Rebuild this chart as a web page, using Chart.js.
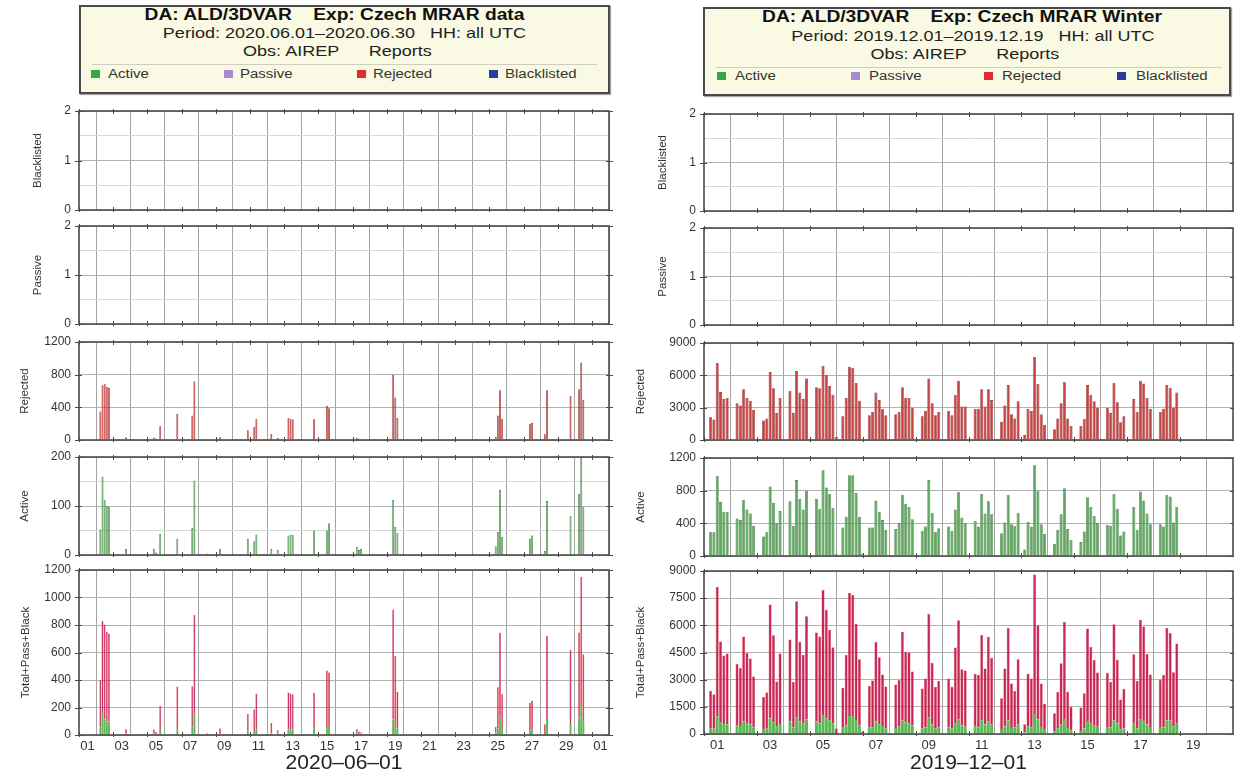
<!DOCTYPE html>
<html>
<head>
<meta charset="utf-8">
<script src="https://cdn.jsdelivr.net/npm/chart.js@4.4.1/dist/chart.umd.min.js"></script>
<style>
html,body{margin:0;padding:0;background:#fff;}
body{width:1234px;height:776px;position:relative;overflow:hidden;font-family:"Liberation Sans",Arial,Helvetica,sans-serif;color:#1a1a1a;}
canvas{position:absolute;}
.box{position:absolute;background:#fafae4;border:2px solid #4a4a4a;box-sizing:border-box;box-shadow:1px 1px 1px rgba(0,0,0,0.35);}
.ln{position:absolute;white-space:pre;text-align:center;line-height:18px;font-size:15px;transform:scaleX(1.2);transform-origin:center center;color:#222;}
.ln.b{font-weight:bold;font-size:16px;color:#111;}
.sep{position:absolute;height:1px;background:#cfcfc0;}
.sq{position:absolute;width:9px;height:8px;}
.lg{position:absolute;white-space:pre;font-size:12.5px;line-height:16px;transform:scaleX(1.2);transform-origin:left center;color:#333;}
</style>
</head>
<body>
<!-- Left header -->
<div class="box" style="left:79px;top:5px;width:531px;height:89px"></div>
<div class="ln b" style="left:69px;width:531px;top:6px">DA: ALD/3DVAR    Exp: Czech MRAR data</div>
<div class="ln" style="left:79px;width:531px;top:24px">Period: 2020.06.01–2020.06.30   HH: all UTC</div>
<div class="ln" style="left:72px;width:531px;top:42px">Obs: AIREP      Reports</div>
<div class="sep" style="left:92px;width:505px;top:64px"></div>
<div class="sq" style="left:91px;top:70px;background:#36a843"></div><div class="lg" style="left:108px;top:66px">Active</div>
<div class="sq" style="left:224px;top:70px;background:#a88bd2"></div><div class="lg" style="left:240px;top:66px">Passive</div>
<div class="sq" style="left:357px;top:70px;background:#e42a2c"></div><div class="lg" style="left:373px;top:66px">Rejected</div>
<div class="sq" style="left:489px;top:70px;background:#2b3b9c"></div><div class="lg" style="left:505px;top:66px">Blacklisted</div>
<!-- Right header -->
<div class="box" style="left:703px;top:7px;width:528px;height:89px"></div>
<div class="ln b" style="left:698px;width:528px;top:8px">DA: ALD/3DVAR    Exp: Czech MRAR Winter</div>
<div class="ln" style="left:709px;width:528px;top:27px">Period: 2019.12.01–2019.12.19   HH: all UTC</div>
<div class="ln" style="left:701px;width:528px;top:45px">Obs: AIREP      Reports</div>
<div class="sep" style="left:716px;width:506px;top:67px"></div>
<div class="sq" style="left:717px;top:72px;background:#36a843"></div><div class="lg" style="left:735px;top:68px">Active</div>
<div class="sq" style="left:851px;top:72px;background:#a88bd2"></div><div class="lg" style="left:869px;top:68px">Passive</div>
<div class="sq" style="left:984px;top:72px;background:#e42a2c"></div><div class="lg" style="left:1002px;top:68px">Rejected</div>
<div class="sq" style="left:1117px;top:72px;background:#2b3b9c"></div><div class="lg" style="left:1136px;top:68px">Blacklisted</div>

<script>
// ================= DATA =================
// June 2020 (left) – x tick labels (odd days, last = 01 July)
const leftXTickLabels = ['01','03','05','07','09','11','13','15','17','19','21','23','25','27','29','01'];
const leftXTitle = '2020–06–01';
// observation times "DD HH" (June 2020)
const leftTimes = ['02 06','02 09','02 12','02 15','02 18','03 18','05 09','05 12','05 18','06 18',
  '07 15','07 18','08 12','09 06','10 21','11 06','11 09','12 06','12 15','13 06',
  '13 09','13 12','14 18','15 12','15 15','17 06','17 09','17 12','19 09','19 12',
  '19 15','25 09','25 12','25 15','25 18','27 09','27 12','28 06','28 09','29 18',
  '30 06','30 09','30 12'];
const leftRejected = [350,670,690,650,640,30,30,18,168,320,
  300,720,10,35,120,160,260,75,25,270,
  260,255,255,420,390,25,15,8,800,520,
  270,40,300,610,260,200,210,70,610,540,
  620,950,490];
const leftActive = [52,160,113,100,98,12,12,5,43,33,
  55,152,3,13,33,28,42,12,10,40,
  42,41,50,50,65,17,10,12,112,57,
  45,18,47,133,37,33,40,8,110,80,
  125,200,98];
const leftPassive = [];
const leftBlacklisted = [];

// December 2019 (right)
const rightXTickLabels = ['01','03','05','07','09','11','13','15','17','19'];
const rightXTitle = '2019–12–01';
const rightHours = [0,3,6,9,12,15,18,21];
// one row per day (Dec 01 .. Dec 18), one column per hour above
const rightRejected = [
  [null,null,2100,1900,7150,4450,3800,3900],
  [null,null,3400,3200,4700,3900,3650,2800],
  [null,null,1800,2000,6300,4800,2500,3900],
  [null,null,4550,2500,6400,4400,3800,5700],
  [null,null,4900,4800,6900,6000,5000,4200],
  [280,null,2200,3900,6800,6700,5300,3650],
  [120,null,2300,2600,4400,3700,2850,2300],
  [null,null,2400,2600,4900,3900,3900,3000],
  [null,null,2200,2700,5700,3400,2300,2600],
  [null,null,2700,2300,4200,5500,3100,3100],
  [null,null,2900,2900,4700,3100,4700,3700],
  [null,null,1700,3200,5100,2400,2000,3600],
  [null,460,2900,2700,7700,5200,2400,1400],
  [null,null,1000,2000,3400,5350,2000,1300],
  [null,null,1300,1950,5100,4200,3600,3000],
  [null,null,3000,2500,5300,3500,1650,2200],
  [null,null,3800,2600,5500,5250,3900,2900],
  [null,null,2600,2900,5100,4850,3000,4400]
];
const rightActive = [
  [null,null,290,290,980,660,540,540],
  [null,null,460,440,690,570,520,370],
  [null,null,240,290,850,650,400,550],
  [null,null,670,370,930,700,570,800],
  [null,null,700,580,1050,840,760,590],
  [20,null,350,480,990,990,770,480],
  [30,null,350,350,680,540,440,320],
  [null,null,330,400,750,640,600,450],
  [null,null,310,360,930,530,290,340],
  [null,null,360,310,570,780,470,400],
  [null,null,430,360,760,520,670,510],
  [null,null,280,410,750,390,370,530],
  [null,80,420,360,1110,800,390,270],
  [null,null,150,320,510,830,330,200],
  [null,null,170,300,720,600,490,400],
  [null,null,380,370,760,580,250,300],
  [null,null,600,320,790,680,520,390],
  [null,null,390,360,750,730,410,600]
];
const rightPassive = [];
const rightBlacklisted = [];

// ================= HELPERS =================
const FONT = '"Liberation Sans", Arial, Helvetica, sans-serif';
function leftPoints(vals){
  return leftTimes.map((t,i)=>({x:(parseInt(t.slice(0,2),10)-1)+parseInt(t.slice(3),10)/24, y:vals[i]}));
}
function rightPoints(rows){
  const pts=[];
  rows.forEach((row,d)=>row.forEach((v,k)=>{ if(v!==null) pts.push({x:d+rightHours[k]/24, y:v}); }));
  return pts;
}

const framePlugin = {
  id:'frame',
  afterDraw(chart, args, opts){
    const {ctx, chartArea:a, scales:{x,y}} = chart;
    ctx.save();
    ctx.strokeStyle='#4a4a4a';
    ctx.lineWidth=1;
    ctx.beginPath();
    x.ticks.forEach(t=>{
      const px=Math.round(x.getPixelForValue(t.value))+0.5;
      ctx.moveTo(px,a.top-2); ctx.lineTo(px,a.top+3);
      ctx.moveTo(px,a.bottom-3); ctx.lineTo(px,a.bottom+2);
    });
    y.ticks.forEach(t=>{
      if (Math.abs(t.value/opts.labelStep-Math.round(t.value/opts.labelStep))>1e-6) return;
      const py=Math.round(y.getPixelForValue(t.value))+0.5;
      ctx.moveTo(a.left-4,py); ctx.lineTo(a.left+3,py);
      ctx.moveTo(a.right-3,py); ctx.lineTo(a.right+4,py);
    });
    ctx.stroke();
    ctx.lineWidth=1.6;
    ctx.strokeRect(a.left,a.top,a.right-a.left,a.bottom-a.top);
    ctx.restore();
  }
};

function makePanel(o){
  const cv=document.createElement('canvas');
  const padTop=18;
  const top=o.T-padTop;
  const xH=o.bottom ? 776-o.B : 18;
  const h=(o.B-top)+xH;
  cv.width=o.W; cv.height=h;
  cv.style.left=o.L+'px'; cv.style.top=top+'px';
  cv.style.width=o.W+'px'; cv.style.height=h+'px';
  document.body.appendChild(cv);
  const isLab=v=>Math.abs(v/o.labelStep-Math.round(v/o.labelStep))<1e-6;
  const yVals=[]; for(let k=0;k*o.gridStep<=o.yMax+1e-9;k++) yVals.push(+(k*o.gridStep).toFixed(6));
  const xVals=o.xTickLabels.map((_,i)=>i*2);
  new Chart(cv,{
    type:'bar',
    data:{datasets:o.datasets},
    options:{
      responsive:false, animation:false, devicePixelRatio:1,
      layout:{padding:{top:padTop,right:o.padR,left:0,bottom:0}},
      plugins:{legend:{display:false},tooltip:{enabled:false},frame:{labelStep:o.labelStep}},
      datasets:{bar:{categoryPercentage:1,barPercentage:o.barPct}},
      scales:{
        x:{type:'linear',min:0,max:o.xMax,bounds:'data',stacked:true,offset:false,
          afterBuildTicks:s=>{s.ticks=xVals.map(v=>({value:v}));},
          afterFit:s=>{s.height=xH;},
          grid:{color:'#a3a3a3',lineWidth:1,drawTicks:false},
          border:{display:false},
          ticks:{display:!!o.bottom,autoSkip:false,maxRotation:0,minRotation:0,padding:4,labelOffset:o.labelOffset,
            color:'#333',font:{family:FONT,size:13},callback:(v,i)=>o.xTickLabels[i]},
          title:{display:!!o.bottom,text:o.xTitle||'',font:{family:FONT,size:21},color:'#222',padding:{top:0,bottom:0}}
        },
        y:{min:0,max:o.yMax,bounds:'data',stacked:true,
          afterBuildTicks:s=>{s.ticks=yVals.map(v=>({value:v}));},
          afterFit:s=>{s.width=o.axisW;},
          grid:{color:c=>isLab(c.tick.value)?'#b2b2b2':'#d9d9d9',lineWidth:1,drawTicks:false},
          border:{display:false},
          ticks:{padding:8,color:'#333',font:{family:FONT,size:12},callback:v=>isLab(v)?String(v):''},
          title:{display:true,text:o.yTitle,font:{family:FONT,size:11.5},color:'#333',padding:{top:o.yTitleX-6.9,bottom:0}}
        }
      }
    },
    plugins:[framePlugin]
  });
}

const REJ={backgroundColor:'#c64444',borderColor:'#8a1e1e',borderWidth:0.6};
const ACT={backgroundColor:'#60a860',borderColor:'#2f6e2f',borderWidth:0.6};
const TOT_ACT={backgroundColor:'#5cb955',borderWidth:0};
const TOT_REJ={backgroundColor:'#c4265a',borderColor:'#ec3a40',borderWidth:0.5};

const LEFT={L:0,W:620,padR:11,axisW:79,xMax:31,labelOffset:8.53,xTickLabels:leftXTickLabels,xTitle:leftXTitle,barPct:0.9};
const RIGHT={L:625,W:609,padR:1,axisW:79,xMax:20,labelOffset:13.2,xTickLabels:rightXTickLabels,xTitle:rightXTitle,barPct:0.9};

// Left column
makePanel({...LEFT,T:111,B:210,yMax:2,gridStep:0.5,labelStep:1,yTitle:'Blacklisted',yTitleX:38,
  datasets:[{label:'Blacklisted',data:leftPoints(leftBlacklisted),backgroundColor:'#2b3b9c'}]});
makePanel({...LEFT,T:226,B:324,yMax:2,gridStep:0.5,labelStep:1,yTitle:'Passive',yTitleX:38,
  datasets:[{label:'Passive',data:leftPoints(leftPassive),backgroundColor:'#a88bd2'}]});
makePanel({...LEFT,T:342,B:440,yMax:1200,gridStep:200,labelStep:400,yTitle:'Rejected',yTitleX:25,
  datasets:[{label:'Rejected',data:leftPoints(leftRejected),...REJ}]});
makePanel({...LEFT,T:457,B:555,yMax:200,gridStep:50,labelStep:100,yTitle:'Active',yTitleX:25,
  datasets:[{label:'Active',data:leftPoints(leftActive),...ACT}]});
makePanel({...LEFT,T:570,B:735,yMax:1200,gridStep:100,labelStep:200,yTitle:'Total+Pass+Black',yTitleX:26,bottom:true,
  datasets:[{label:'Active',data:leftPoints(leftActive),...TOT_ACT},
            {label:'Rejected',data:leftPoints(leftRejected),...TOT_REJ}]});

// Right column
makePanel({...RIGHT,T:114,B:211,yMax:2,gridStep:0.5,labelStep:1,yTitle:'Blacklisted',yTitleX:38,
  datasets:[{label:'Blacklisted',data:rightPoints(rightBlacklisted),backgroundColor:'#2b3b9c'}]});
makePanel({...RIGHT,T:228,B:325,yMax:2,gridStep:0.5,labelStep:1,yTitle:'Passive',yTitleX:38,
  datasets:[{label:'Passive',data:rightPoints(rightPassive),backgroundColor:'#a88bd2'}]});
makePanel({...RIGHT,T:343,B:440,yMax:9000,gridStep:1500,labelStep:3000,yTitle:'Rejected',yTitleX:16,
  datasets:[{label:'Rejected',data:rightPoints(rightRejected),...REJ}]});
makePanel({...RIGHT,T:458,B:556,yMax:1200,gridStep:200,labelStep:400,yTitle:'Active',yTitleX:16,
  datasets:[{label:'Active',data:rightPoints(rightActive),...ACT}]});
makePanel({...RIGHT,T:571,B:734,yMax:9000,gridStep:750,labelStep:1500,yTitle:'Total+Pass+Black',yTitleX:16,bottom:true,
  datasets:[{label:'Active',data:rightPoints(rightActive),...TOT_ACT},
            {label:'Rejected',data:rightPoints(rightRejected),...TOT_REJ}]});
</script>
</body>
</html>
